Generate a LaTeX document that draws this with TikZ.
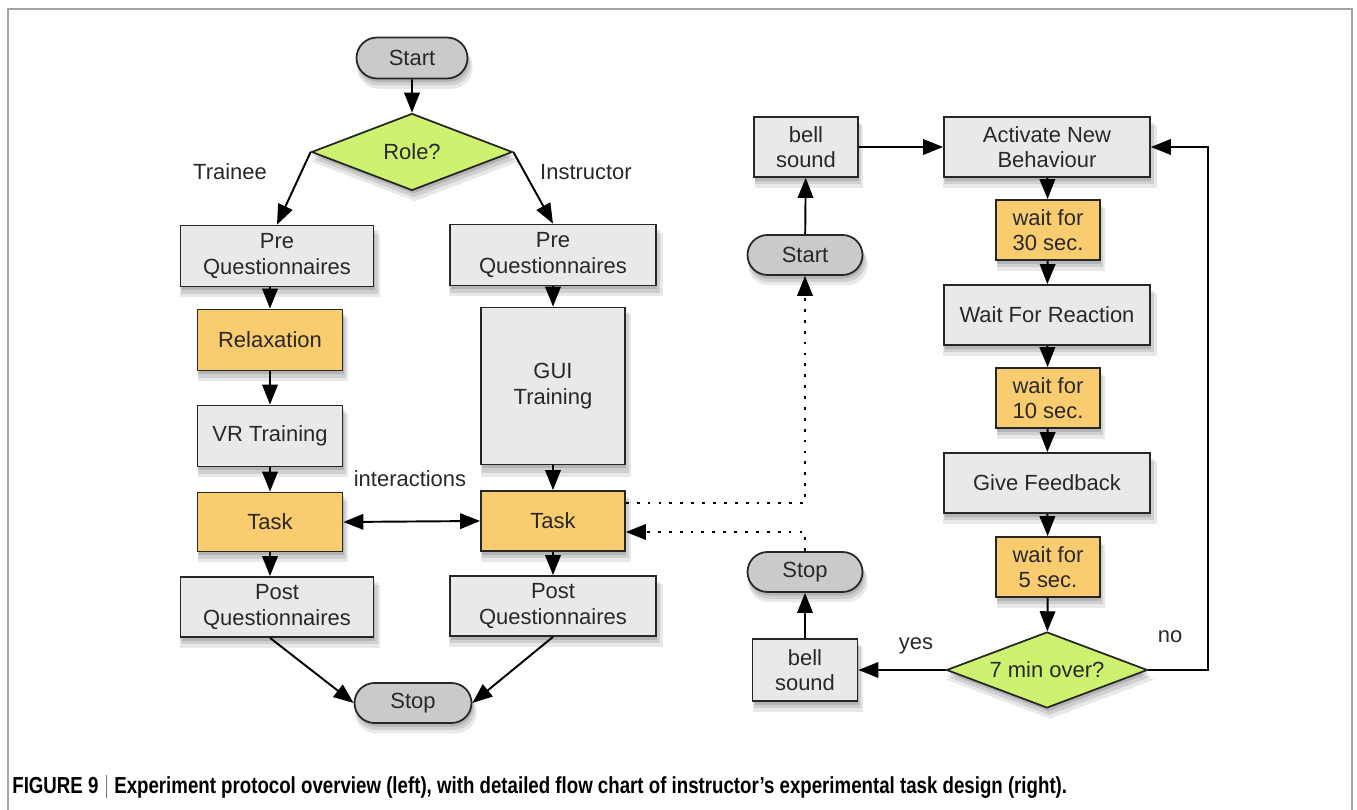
\documentclass[tikz,border=0pt]{standalone}
\usepackage{fontspec}
\setmainfont{Liberation Sans}
\usetikzlibrary{shapes.geometric,shapes.misc,arrows.meta,shadows}
\definecolor{boxgray}{RGB}{233,233,233}
\definecolor{pillgray}{RGB}{202,202,202}
\definecolor{orangebox}{RGB}{250,204,112}
\definecolor{limegreen}{RGB}{206,242,112}
\definecolor{txt}{RGB}{40,40,40}
\definecolor{framegray}{RGB}{165,165,165}
\newsavebox\capbox
\begin{document}
\sbox\capbox{\fontsize{13.2}{15}\selectfont\bfseries FIGURE 9\hspace{0.4em}{\color{black!55}\rule[-2pt]{0.6pt}{13pt}}\hspace{0.4em}Experiment protocol overview (left), with detailed flow chart of instructor’s experimental task design (right).}%
\pgfmathsetmacro{\capscale}{21.1cm/\wd\capbox}%
\begin{tikzpicture}[x=0.02cm,y=-0.02cm,
 base/.style={draw=black!85, line width=1pt, text=txt,
   font=\fontsize{12.5}{14.5}\selectfont, align=center, inner sep=0pt,
   drop shadow={fill=black, opacity=0.13, shadow xshift=0.8pt, shadow yshift=-2pt},
   drop shadow={fill=black, opacity=0.11, shadow xshift=1.2pt, shadow yshift=-3.6pt, shadow scale=1.02},
   drop shadow={fill=black, opacity=0.09, shadow xshift=1.6pt, shadow yshift=-5.2pt, shadow scale=1.04}},
 gbox/.style={base, rectangle, fill=boxgray},
 obox/.style={base, rectangle, fill=orangebox},
 pill/.style={base, rounded rectangle, fill=pillgray},
 decide/.style={base, diamond, aspect=2.6, fill=limegreen},
 tip/.tip={Triangle[length=0.4cm,width=0.31cm]},
 arr/.style={-tip, line width=1.1pt, draw=black},
 dots/.style={line width=1.4pt, dash pattern=on 1.6pt off 4.6pt},
 lbl/.style={text=txt, font=\fontsize{12.5}{14.5}\selectfont, inner sep=0pt}
]
\useasboundingbox (0,0) rectangle (1357,810);
\draw[framegray, line width=1.1pt] (8,812) -- (8,9) -- (1352,9) -- (1352,812);

% ---------- left flow ----------
\node[pill, minimum width=2.22cm, minimum height=0.82cm] (startL) at (412,58) {Start};
\node[decide, minimum width=4.02cm, minimum height=1.54cm] (role) at (412,152) {Role?};
\node[gbox, minimum width=3.86cm, minimum height=1.22cm] (preL) at (277,256) {Pre\\Questionnaires};
\node[gbox, minimum width=4.12cm, minimum height=1.22cm] (preR) at (553,255) {Pre\\Questionnaires};
\node[obox, minimum width=2.9cm, minimum height=1.22cm] (relax) at (270,340) {Relaxation};
\node[gbox, minimum width=2.9cm, minimum height=1.22cm] (vr) at (270,436) {VR Training};
\node[gbox, minimum width=2.88cm, minimum height=3.14cm] (gui) at (553,386) {GUI\\Training};
\node[obox, minimum width=2.9cm, minimum height=1.18cm] (taskL) at (270,522) {Task};
\node[obox, minimum width=2.88cm, minimum height=1.2cm] (taskR) at (553,521) {Task};
\node[gbox, minimum width=3.86cm, minimum height=1.2cm] (postL) at (277,607) {Post\\Questionnaires};
\node[gbox, minimum width=4.12cm, minimum height=1.2cm] (postR) at (553,606) {Post\\Questionnaires};
\node[pill, minimum width=2.34cm, minimum height=0.8cm] (stopL) at (413,703) {Stop};

\node[lbl] (ltrainee) at (230,172) {Trainee};
\node[lbl] (linstr) at (586,172) {Instructor};
\node[lbl] (linter) at (410,479) {interactions};

\draw[arr] (startL) -- (role);
\draw[arr] (role.west) -- (preL.north);
\draw[arr] (role.east) -- (preR.north);
\draw[arr] (relax.north |- preL.south) -- (relax.north);
\draw[arr] (relax) -- (vr);
\draw[arr] (vr) -- (taskL);
\draw[arr] (taskL.south) -- (taskL.south |- postL.north);
\draw[arr] (preR) -- (gui);
\draw[arr] (gui) -- (taskR);
\draw[arr] (taskR) -- (postR);
\draw[arr] (taskL.south |- postL.south) -- (stopL.west);
\draw[arr] (postR.south) -- (stopL.east);
\draw[tip-tip, line width=1.1pt] (taskL.east) -- (taskR.west);

% ---------- right flow ----------
\node[gbox, minimum width=2.08cm, minimum height=1.2cm] (bell1) at (806,147) {bell\\sound};
\node[pill, minimum width=2.3cm, minimum height=0.8cm] (startR) at (805,255) {Start};
\node[pill, minimum width=2.3cm, minimum height=0.8cm] (stopR) at (805,572) {Stop};
\node[gbox, minimum width=2.1cm, minimum height=1.24cm] (bell2) at (805,670) {bell\\sound};

\node[gbox, minimum width=4.12cm, minimum height=1.2cm] (act) at (1047,147) {Activate New\\Behaviour};
\node[obox, minimum width=2.08cm, minimum height=1.2cm] (w30) at (1048,230) {wait for\\30 sec.};
\node[gbox, minimum width=4.12cm, minimum height=1.2cm] (react) at (1047,315) {Wait For Reaction};
\node[obox, minimum width=2.08cm, minimum height=1.2cm] (w10) at (1048,398) {wait for\\10 sec.};
\node[gbox, minimum width=4.12cm, minimum height=1.2cm] (feed) at (1047,483) {Give Feedback};
\node[obox, minimum width=2.08cm, minimum height=1.2cm] (w5) at (1048,567) {wait for\\5 sec.};
\node[decide, minimum width=4.02cm, minimum height=1.52cm] (over) at (1047,670) {7 min over?};

\node[lbl] (lyes) at (916,646) {yes};
\node[lbl] (lno) at (1170,637) {no};

\draw[arr] (startR) -- (bell1);
\draw[arr] (bell1) -- (act);
\draw[arr] (bell2) -- (stopR);
\draw[arr] (over.west) -- (bell2.east);
\coordinate (loop) at (1208,147);
\draw[arr] (over.east) -| (loop) -- (act.east);
\draw[arr] (act) -- (w30);
\draw[arr] (w30) -- (react);
\draw[arr] (react) -- (w10);
\draw[arr] (w10) -- (feed);
\draw[arr] (feed) -- (w5);
\draw[arr] (w5) -- (over);

\coordinate (d1) at (805,503);
\coordinate (d2) at (805,532);
\draw[dots] (taskR.east |- d1) -- (d1) -- ([yshift=-0.3cm]startR.south);
\draw[-tip, line width=1.1pt] ([yshift=-0.3cm]startR.south) -- (startR.south);
\draw[dots] (stopR.north) -- (d2) -- ([xshift=0.3cm]taskR.east |- d2);
\draw[-tip, line width=1.1pt] ([xshift=0.3cm]taskR.east |- d2) -- (taskR.east |- d2);

% ---------- caption ----------
\node[anchor=base west, inner sep=0pt, text=black!90] (cap) at (12,794) {\scalebox{\capscale}[1]{\usebox\capbox}};
\end{tikzpicture}
\end{document}
